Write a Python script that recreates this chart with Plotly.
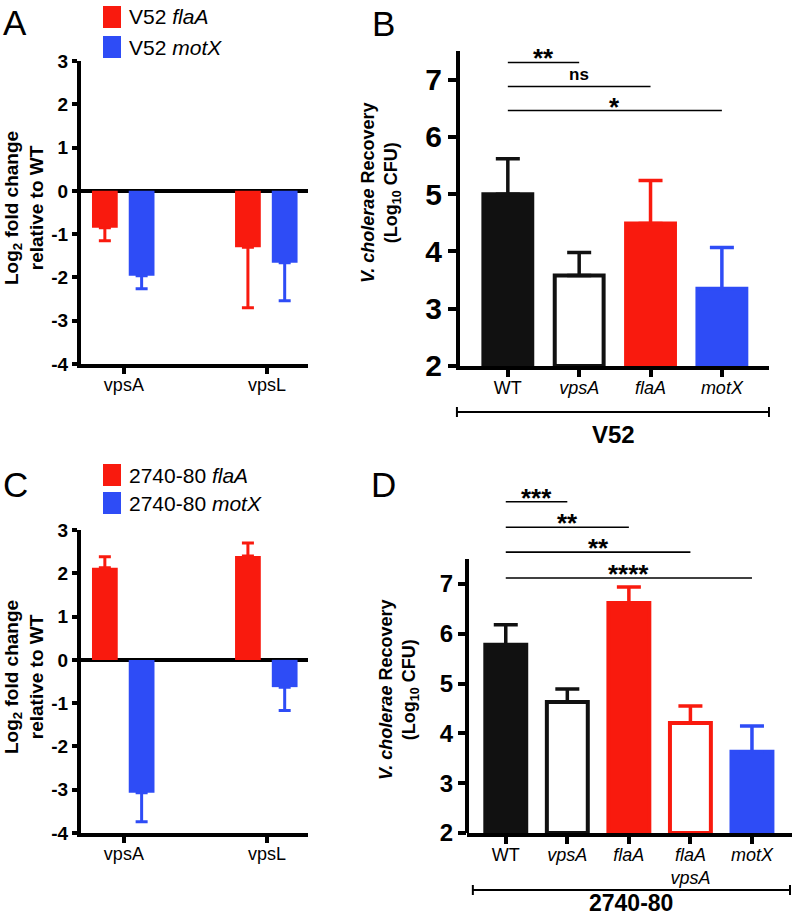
import plotly.graph_objects as go

W, H = 793, 917
RED = '#F91A0E'
BLUE = '#2E4CF6'
BLACK = '#111111'
FONT = 'Liberation Sans, Arial, Helvetica, sans-serif'

# ---------------- data ----------------
genes = ['vpsA', 'vpsL']
a_flaA = [-0.85, -1.30]
a_flaA_err = [0.30, 1.40]
a_motX = [-1.96, -1.66]
a_motX_err = [0.30, 0.88]

c_flaA = [2.13, 2.40]
c_flaA_err = [0.25, 0.30]
c_motX = [-3.07, -0.63]
c_motX_err = [0.67, 0.54]

fold_ticks = [-4, -3, -2, -1, 0, 1, 2, 3]
fold_ticktext = ['-4', '-3', '-2', '-1', '0', '1', '2', '3']

b_strains = ['WT', 'vpsA', 'flaA', 'motX']
b_labels = ['WT', '<i>vpsA</i>', '<i>flaA</i>', '<i>motX</i>']
b_vals = [5.00, 3.58, 4.49, 3.35]
b_err = [0.62, 0.40, 0.75, 0.72]
b_fill = [BLACK, 'white', RED, BLUE]
b_edge = [BLACK, BLACK, RED, BLUE]

d_strains = ['WT', 'vpsA', 'flaA', 'flaA vpsA', 'motX']
d_labels = ['WT', '<i>vpsA</i>', '<i>flaA</i>', '<i>flaA</i><br><i>vpsA</i>', '<i>motX</i>']
d_vals = [5.78, 4.63, 6.62, 4.21, 3.63]
d_err = [0.40, 0.26, 0.32, 0.34, 0.52]
d_fill = [BLACK, 'white', RED, 'white', BLUE]
d_edge = [BLACK, BLACK, RED, RED, BLUE]

cfu_ticks = [2, 3, 4, 5, 6, 7]

b_sig_text = ['**', 'ns', '*']
b_sig_to = ['vpsA', 'flaA', 'motX']
b_sig_y = [7.30, 6.88, 6.46]

d_sig_text = ['***', '**', '**', '****']
d_sig_to = ['vpsA', 'flaA', 'flaA vpsA', 'motX']
d_sig_y = [8.65, 8.14, 7.64, 7.12]

fig = go.Figure()

# ---------------- panels A & C (fold change) ----------------
def fold_traces(xa, ya, vals_r, err_r, vals_b, err_b):
    for vals, err, col, off in [(vals_r, err_r, RED, -0.223), (vals_b, err_b, BLUE, 0.034)]:
        plus = [e if v > 0 else 0 for v, e in zip(vals, err)]
        minus = [e if v < 0 else 0 for v, e in zip(vals, err)]
        fig.add_trace(go.Bar(
            x=genes, y=vals, xaxis=xa, yaxis=ya, width=0.18, offset=off,
            marker=dict(color=col, line=dict(width=0)),
            error_y=dict(type='data', symmetric=False, array=plus, arrayminus=minus,
                         color=col, thickness=3, width=6),
            showlegend=False, hoverinfo='skip'))

fold_traces('x', 'y', a_flaA, a_flaA_err, a_motX, a_motX_err)
fold_traces('x3', 'y3', c_flaA, c_flaA_err, c_motX, c_motX_err)

# ---------------- panels B & D (recovery) ----------------
def rec_traces(xa, ya, cats, vals, errs, fills, edges, w):
    for c, v, e, f, ed in zip(cats, vals, errs, fills, edges):
        fig.add_trace(go.Bar(
            x=[c], y=[v], xaxis=xa, yaxis=ya, width=w, base=2,
            marker=dict(color=f, line=dict(color=ed, width=4)),
            error_y=dict(type='data', symmetric=False, array=[e], arrayminus=[0],
                         color=ed, thickness=3.5, width=12),
            showlegend=False, hoverinfo='skip'))

# bars start at the axis floor (2); y values given relative via base
def rel(vals):
    return [v - 2 for v in vals]

rec_traces('x2', 'y2', b_strains, rel(b_vals), b_err, b_fill, b_edge, 0.685)
rec_traces('x4', 'y4', d_strains, rel(d_vals), d_err, d_fill, d_edge, 0.665)

# ---------------- axes ----------------
common_line = dict(showline=True, linewidth=4, linecolor='black', showgrid=False,
                   ticks='outside', tickwidth=4, tickcolor='black')

fig.update_layout(
    width=W, height=H, margin=dict(l=0, r=0, t=0, b=0, autoexpand=False),
    paper_bgcolor='white', plot_bgcolor='white', barmode='overlay',
    font=dict(family=FONT, color='black'),
    xaxis=dict(domain=[0.1021, 0.3884], anchor='y', type='category', categoryorder='array',
               categoryarray=genes, range=[-0.30, 1.287], ticklen=6, zeroline=False,
               ticklabelstandoff=-5, tickfont=dict(size=18), **common_line),
    yaxis=dict(domain=[0.6030, 0.9335], anchor='x', range=[-4, 3], tickvals=fold_ticks,
               ticktext=fold_ticktext, ticklen=5, zeroline=True, zerolinewidth=4,
               zerolinecolor='black', tickfont=dict(size=19, weight='bold'), **common_line),
    xaxis3=dict(domain=[0.1021, 0.3884], anchor='y3', type='category', categoryorder='array',
                categoryarray=genes, range=[-0.30, 1.287], ticklen=6, zeroline=False,
                ticklabelstandoff=-5, tickfont=dict(size=18), **common_line),
    yaxis3=dict(domain=[0.0916, 0.4220], anchor='x3', range=[-4, 3], tickvals=fold_ticks,
                ticktext=fold_ticktext, ticklen=5, zeroline=True, zerolinewidth=4,
                zerolinecolor='black', tickfont=dict(size=19, weight='bold'), **common_line),
    xaxis2=dict(domain=[0.5801, 0.9697], anchor='y2', type='category', categoryorder='array',
                categoryarray=b_strains, tickvals=b_strains, ticktext=b_labels,
                range=[-0.67, 3.66], ticklen=7, zeroline=False, ticklabelstandoff=-5,
                tickfont=dict(size=18), **common_line),
    yaxis2=dict(domain=[0.6009, 0.9444], anchor='x2', range=[2, 7.5], tickvals=cfu_ticks,
                ticklen=8, zeroline=False, tickfont=dict(size=30, weight='bold'), **common_line),
    xaxis4=dict(domain=[0.5889, 0.9987], anchor='y4', type='category', categoryorder='array',
                categoryarray=d_strains, tickvals=d_strains, ticktext=d_labels,
                range=[-0.63, 4.65], ticklen=7, zeroline=False, ticklabelstandoff=-5,
                tickfont=dict(size=18), **common_line),
    yaxis4=dict(domain=[0.0916, 0.4718], anchor='x4', range=[2, 9.0], tickvals=cfu_ticks,
                ticklen=8, zeroline=False, showline=False, showgrid=False, ticks='outside',
                tickwidth=4, tickcolor='black', tickfont=dict(size=24, weight='bold')),
)

shapes = []
ann = []

# D y-axis line (only up to 7.5)
shapes.append(dict(type='line', xref='x4 domain', yref='y4', x0=0, x1=0, y0=2, y1=7.5,
                   line=dict(color='black', width=4), layer='above'))

# significance lines
for t, to, y in zip(b_sig_text, b_sig_to, b_sig_y):
    i = b_strains.index(to)
    shapes.append(dict(type='line', xref='x2', yref='y2', x0=0, x1=i, y0=y, y1=y,
                       line=dict(color='black', width=1.6)))
    star = t != 'ns'
    ann.append(dict(xref='x2', yref='y2', x=i / 2, y=y, text='<b>%s</b>' % t, showarrow=False,
                    yanchor='middle', yshift=4 if star else 12,
                    font=dict(size=26 if star else 17)))
for t, to, y in zip(d_sig_text, d_sig_to, d_sig_y):
    i = d_strains.index(to)
    shapes.append(dict(type='line', xref='x4', yref='y4', x0=0, x1=i, y0=y, y1=y,
                       line=dict(color='black', width=1.6)))
    ann.append(dict(xref='x4', yref='y4', x=i / 2, y=y, text='<b>%s</b>' % t, showarrow=False,
                    yanchor='middle', yshift=4, font=dict(size=26)))

# strain brackets under B and D
def bracket(xref, x0, x1, ypx, label, lx, ly, anchor='middle', size=24):
    yp = 1 - ypx / H
    cap = 5 / H
    shapes.append(dict(type='line', xref=xref, yref='paper', x0=x0, x1=x1, y0=yp, y1=yp,
                       line=dict(color='black', width=2)))
    for xx in (x0, x1):
        shapes.append(dict(type='line', xref=xref, yref='paper', x0=xx, x1=xx, y0=yp - cap,
                           y1=yp + cap, line=dict(color='black', width=2)))
    ann.append(dict(xref='paper', yref='paper', x=lx / W, y=1 - ly / H, text='<b>%s</b>' % label,
                    showarrow=False, xanchor='center', yanchor=anchor, borderpad=0,
                    font=dict(size=size)))

bracket('x2 domain', -0.01, 1.0, 412, 'V52', 613, 434)
bracket('x4 domain', 0.018, 0.994, 890, '2740-80', 631, 917, anchor='bottom', size=23)

# legends for A and C
def legend(entries, y_red, y_blue):
    for (txt, col), yc in zip(entries, (y_red, y_blue)):
        shapes.append(dict(type='rect', xref='paper', yref='paper', x0=103 / W, x1=121 / W,
                           y0=1 - (yc + 11) / H, y1=1 - (yc - 11) / H,
                           fillcolor=col, line=dict(width=0)))
        ann.append(dict(xref='paper', yref='paper', x=127 / W, y=1 - yc / H, text=txt,
                        showarrow=False, xanchor='left', yanchor='middle', font=dict(size=21)))

legend([('V52 <i>flaA</i>', RED), ('V52 <i>motX</i>', BLUE)], 17, 47)
legend([('2740-80 <i>flaA</i>', RED), ('2740-80 <i>motX</i>', BLUE)], 475, 503)

# panel letters
for L, px, py in [('A', 15, 22), ('B', 383, 23), ('C', 15, 485), ('D', 383, 485)]:
    ann.append(dict(xref='paper', yref='paper', x=px / W, y=1 - py / H, text=L, showarrow=False,
                    xanchor='center', yanchor='middle', font=dict(size=35)))

# y-axis titles
ytitle_fold = '<b>Log<sub>2</sub> fold change<br>relative to WT</b>'
ytitle_cfu = '<b><i>V. cholerae</i> Recovery<br>(Log<sub>10</sub> CFU)</b>'
for txt, px, py, fs in [(ytitle_fold, 24, 208, 19), (ytitle_fold, 24, 677, 19),
                        (ytitle_cfu, 381, 193, 18), (ytitle_cfu, 399, 690, 18)]:
    ann.append(dict(xref='paper', yref='paper', x=px / W, y=1 - py / H, text=txt,
                    showarrow=False, textangle=-90, xanchor='center', yanchor='middle',
                    font=dict(size=fs)))

fig.update_layout(shapes=shapes, annotations=ann)
fig.write_html('out.html', config={'displayModeBar': False},
               post_script="document.documentElement.style.margin='0';"
                           "document.body.style.margin='0';"
                           "document.documentElement.style.overflow='hidden';"
                           "document.body.style.overflow='hidden';")
